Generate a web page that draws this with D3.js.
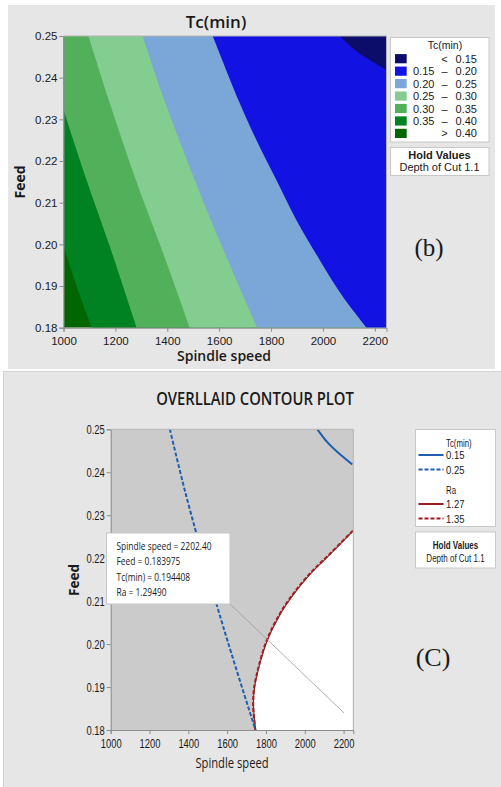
<!DOCTYPE html>
<html>
<head>
<meta charset="utf-8">
<script src="https://cdn.jsdelivr.net/npm/d3@7"></script>
<style>
  body { margin: 0; background: #fff; }
  svg text { font-family: "Open Sans", "Noto Sans", sans-serif; fill: #1a1a1a; }
  svg text.arial, .tick text { font-family: "Liberation Sans", Arial, sans-serif; }
</style>
</head>
<body>
<div id="chart"></div>
<script>
// ---- data ----
var speedTicks = [1000, 1200, 1400, 1600, 1800, 2000, 2200];
var feedTicks = [0.18, 0.19, 0.20, 0.21, 0.22, 0.23, 0.24, 0.25];

// band colours, from the highest Tc (lower left) to the lowest (upper right)
var bandColors = ["#006600", "#008222", "#52b05b", "#82cd8f", "#7ba6d8", "#1212e2", "#0c0c6b"];
var legendRows = [["", "<", "0.15"], ["0.15", "–", "0.20"], ["0.20", "–", "0.25"], ["0.25", "–", "0.30"],
                  ["0.30", "–", "0.35"], ["0.35", "–", "0.40"], ["", ">", "0.40"]];

// Tc(min) contour lines as [spindle speed, feed]
var tc040 = [[1000, 0.1998], [1051, 0.1898], [1109, 0.18]];
var tc035 = [[1000, 0.2325], [1038, 0.2250], [1089, 0.2154], [1179, 0.1994], [1282, 0.18]];
var tc030 = [[1096, 0.25], [1179, 0.2338], [1279, 0.2154], [1384, 0.1979], [1487, 0.18]];
var tc025 = [[1305, 0.25], [1384, 0.2354], [1506, 0.2154], [1603, 0.2006], [1746, 0.18]];
var tc020 = [[1575, 0.25], [1680, 0.2338], [1744, 0.2250], [1821, 0.2154], [1898, 0.2058],
             [1988, 0.1962], [2077, 0.1874], [2168, 0.18]];
var tc015 = [[2065, 0.25], [2116, 0.2470], [2168, 0.2447], [2245, 0.2418]];

// Ra contour lines (overlaid plot)
var ra135 = [[1745, 0.18], [1734, 0.1855], [1738, 0.1895], [1762, 0.1947], [1805, 0.201], [1873, 0.2072],
             [1942, 0.2118], [2028, 0.2165], [2131, 0.2211], [2250, 0.2265]];
var ra127 = [[1747, 0.18], [1736, 0.1855], [1740, 0.1895], [1764, 0.1947], [1807, 0.2009], [1875, 0.2071],
             [1944, 0.2117], [2030, 0.2164], [2133, 0.2210], [2250, 0.2264]];

// crosshair read-out
var tipSpeed = 2202.40, tipFeed = 0.183975, tipTc = 0.194408, tipRa = 1.29490;
var holdDepth = 1.1;

var svg = d3.select("#chart").append("svg")
  .attr("width", 501)
  .attr("height", 787);

// panel backgrounds
svg.append("rect").attr("x", 8).attr("y", 5).attr("width", 487).attr("height", 364).attr("fill", "#e6e6e6");
svg.append("rect").attr("x", 3.5).attr("y", 371.5).attr("width", 500).attr("height", 420)
  .attr("fill", "#e6e6e6").attr("stroke", "#d2d2d2");

// the lower picture is squashed sideways, so its texts are narrowed
function squeeze(sel, k) {
  sel.each(function() {
    var w = this.getComputedTextLength();
    d3.select(this).attr("textLength", w * k).attr("lengthAdjust", "spacingAndGlyphs");
  });
}

// smooth line through boundary points, closed round the upper right corner
function bandPath(pts, x, y) {
  var d = d3.line().x(p => x(p[0])).y(p => y(p[1])).curve(d3.curveCatmullRom)(pts);
  var x0 = x.range()[0], x1 = x.range()[1], yb = y.range()[0], yt = y.range()[1];
  return d + "L" + x1 + "," + yb + "L" + x1 + "," + yt + "L" + x0 + "," + yt + "Z";
}

// axes; xBase = baseline offset of the speed labels below the plot
function drawAxes(g, x, y, fontSize, xBase) {
  var ax = g.append("g")
    .attr("transform", `translate(0, ${y.range()[0]})`)
    .call(d3.axisBottom(x).tickValues(speedTicks).tickSize(4).tickFormat(d3.format("d")));
  var ay = g.append("g")
    .attr("transform", `translate(${x.range()[0]}, 0)`)
    .call(d3.axisLeft(y).tickValues(feedTicks).tickSize(4).tickPadding(2).tickFormat(d3.format(".2f")));
  [ax, ay].forEach(function(a) {
    a.select(".domain").attr("stroke", "#8c8c8c");
    a.selectAll(".tick line").attr("stroke", "#8c8c8c");
    a.selectAll(".tick text").attr("font-size", fontSize).attr("fill", "#1a1a1a");
  });
  ax.selectAll(".tick text").attr("y", xBase).attr("dy", 0);
  // light frame on top and right
  g.append("path")
    .attr("d", `M${x.range()[0]},${y.range()[1]}H${x.range()[1]}V${y.range()[0]}`)
    .attr("fill", "none").attr("stroke", "#b4b4b4");
  return g.selectAll(".tick text");
}

// ================= (b) Tc(min) contour plot =================
var xTop = d3.scaleLinear().domain([1000, 2245]).range([63.5, 386.5]);
var yTop = d3.scaleLinear().domain([0.18, 0.25]).range([327.7, 36]);

svg.append("clipPath").attr("id", "clipTop").append("rect")
  .attr("x", 63.5).attr("y", 36).attr("width", 323).attr("height", 291.7);

var topG = svg.append("g");
var bands = topG.append("g").attr("clip-path", "url(#clipTop)");
bands.append("rect").attr("x", 63.5).attr("y", 36).attr("width", 323).attr("height", 291.7)
  .attr("fill", bandColors[0]);
[tc040, tc035, tc030, tc025, tc020, tc015].forEach(function(line, i) {
  bands.append("path").attr("d", bandPath(line, xTop, yTop)).attr("fill", bandColors[i + 1]);
});
drawAxes(topG, xTop, yTop, "11.5px", 16.9);

topG.append("text").attr("x", 216).attr("y", 28).attr("text-anchor", "middle")
  .attr("font-size", "17px").attr("font-weight", 600).text("Tc(min)");
topG.append("text").attr("x", 224).attr("y", 361).attr("text-anchor", "middle")
  .attr("font-size", "14px").attr("font-weight", 600).text("Spindle speed");
topG.append("text").attr("transform", "translate(25, 182) rotate(-90)").attr("text-anchor", "middle")
  .attr("font-size", "14px").attr("font-weight", 700).text("Feed");

// legend
var leg = topG.append("g");
leg.append("rect").attr("x", 390.5).attr("y", 37.5).attr("width", 98.5).attr("height", 104.5)
  .attr("fill", "#fff").attr("stroke", "#c8c8c8");
leg.append("text").attr("class", "arial").attr("x", 445).attr("y", 49).attr("text-anchor", "middle")
  .attr("font-size", "10.5px").text("Tc(min)");
var legColors = bandColors.slice().reverse();
legendRows.forEach(function(r, i) {
  var cy = 58.7 + i * 12.45;
  leg.append("rect").attr("x", 395).attr("y", cy - 4.6).attr("width", 11.7).attr("height", 9.2)
    .attr("fill", legColors[i]);
  var row = leg.append("text").attr("class", "arial").attr("y", cy + 4).attr("font-size", "11px");
  if (r[0]) row.append("tspan").attr("x", 413).text(r[0]);
  row.append("tspan").attr("x", 444.5).attr("text-anchor", "middle").text(r[1]);
  row.append("tspan").attr("x", 477).attr("text-anchor", "end").text(r[2]);
});
leg.append("rect").attr("x", 390.5).attr("y", 147.5).attr("width", 98.5).attr("height", 28)
  .attr("fill", "#fff").attr("stroke", "#c8c8c8");
leg.append("text").attr("class", "arial").attr("x", 439.5).attr("y", 158.5).attr("text-anchor", "middle")
  .attr("font-size", "11px").attr("font-weight", 700).text("Hold Values");
leg.append("text").attr("class", "arial").attr("x", 439.5).attr("y", 171).attr("text-anchor", "middle")
  .attr("font-size", "11px").text("Depth of Cut  " + holdDepth);

topG.append("text").attr("x", 429).attr("y", 256).attr("text-anchor", "middle")
  .style("font-family", "'Liberation Serif', serif")
  .attr("font-size", "25px").text("(b)");

// ================= (C) overlaid contour plot =================
var xBot = d3.scaleLinear().domain([1000, 2250]).range([110.7, 353.3]);
var yBot = d3.scaleLinear().domain([0.18, 0.25]).range([730, 429.3]);

svg.append("clipPath").attr("id", "clipBot").append("rect")
  .attr("x", 110.7).attr("y", 429.3).attr("width", 242.6).attr("height", 300.7);

var bot = svg.append("g");
var area = bot.append("g").attr("clip-path", "url(#clipBot)");
area.append("rect").attr("x", 110.7).attr("y", 429.3).attr("width", 242.6).attr("height", 300.7)
  .attr("fill", "#cbcbcb");

// feasible (white) region below the Ra contour
var raLine = d3.line().x(p => xBot(p[0])).y(p => yBot(p[1])).curve(d3.curveCatmullRom);
area.append("path")
  .attr("d", raLine(ra135) + "L" + xBot(2250) + "," + yBot(0.18) + "Z")
  .attr("fill", "#fff");

area.append("path").attr("d", raLine(ra127)).attr("fill", "none")
  .attr("stroke", "#9a1c1c").attr("stroke-width", 1.2);
area.append("path").attr("d", raLine(ra135)).attr("fill", "none")
  .attr("stroke", "#a01e1e").attr("stroke-width", 2).attr("stroke-dasharray", "4,2");
area.append("path").attr("d", raLine(tc025)).attr("fill", "none")
  .attr("stroke", "#1e5fb0").attr("stroke-width", 2).attr("stroke-dasharray", "4,2");
area.append("path").attr("d", raLine(tc015)).attr("fill", "none")
  .attr("stroke", "#1e5fb0").attr("stroke-width", 2);

var botTicks = drawAxes(bot, xBot, yBot, "12.5px", 18.3);
squeeze(botTicks, 0.75);

// crosshair read-out box with its leader line
bot.append("line")
  .attr("x1", 230).attr("y1", 604)
  .attr("x2", xBot(tipSpeed)).attr("y2", yBot(tipFeed))
  .attr("stroke", "#9a9a9a").attr("stroke-width", 0.8);
bot.append("rect").attr("x", 106.5).attr("y", 533).attr("width", 123.5).attr("height", 71)
  .attr("fill", "#fff").attr("stroke", "#c8c8c8");
var tipLines = ["Spindle speed = " + tipSpeed.toFixed(2), "Feed = " + tipFeed,
                "Tc(min) = " + tipTc, "Ra = " + tipRa.toFixed(5)];
var tipText = bot.selectAll(".tip").data(tipLines).enter().append("text")
  .attr("class", "tip")
  .attr("x", 116.5).attr("y", (d, i) => 550 + i * 15.4)
  .attr("font-size", "10.5px").text(d => d);
squeeze(tipText, 0.8);

var t1 = bot.append("text").attr("x", 255).attr("y", 405).attr("text-anchor", "middle")
  .attr("font-size", "18.5px").attr("font-weight", 600).text("OVERLLAID CONTOUR PLOT");
squeeze(t1, 0.8);
var t2 = bot.append("text").attr("x", 232).attr("y", 768).attr("text-anchor", "middle")
  .attr("font-size", "14px").text("Spindle speed");
squeeze(t2, 0.8);
bot.append("text").attr("transform", "translate(79, 580) rotate(-90)").attr("text-anchor", "middle")
  .attr("font-size", "13.5px").attr("font-weight", 700).text("Feed");

// legend
var leg2 = bot.append("g");
leg2.append("rect").attr("x", 415.5).attr("y", 429.5).attr("width", 80).attr("height", 97)
  .attr("fill", "#fff").attr("stroke", "#c8c8c8");
var legItems = [
  {title: "Tc(min)", y: 443},
  {label: "0.15", y: 455, color: "#1e5fb0", dash: null},
  {label: "0.25", y: 469.5, color: "#1e5fb0", dash: "4,2"},
  {title: "Ra", y: 490},
  {label: "1.27", y: 504, color: "#9a1c1c", dash: null},
  {label: "1.35", y: 518.5, color: "#9a1c1c", dash: "4,2"}
];
legItems.forEach(function(it) {
  if (it.title) {
    squeeze(leg2.append("text").attr("class", "arial").attr("x", 446).attr("y", it.y + 3.5)
      .attr("font-size", "10px").text(it.title), 0.78);
  } else {
    leg2.append("line").attr("x1", 418.5).attr("x2", 443.5).attr("y1", it.y).attr("y2", it.y)
      .attr("stroke", it.color).attr("stroke-width", 2).attr("stroke-dasharray", it.dash);
    squeeze(leg2.append("text").attr("class", "arial").attr("x", 446).attr("y", it.y + 4)
      .attr("font-size", "10.5px").text(it.label), 0.9);
  }
});
leg2.append("rect").attr("x", 415.5).attr("y", 532).attr("width", 80).attr("height", 36)
  .attr("fill", "#fff").attr("stroke", "#c8c8c8");
squeeze(leg2.append("text").attr("class", "arial").attr("x", 455.5).attr("y", 548.5).attr("text-anchor", "middle")
  .attr("font-size", "10px").attr("font-weight", 700).text("Hold Values"), 0.8);
squeeze(leg2.append("text").attr("class", "arial").attr("x", 455.5).attr("y", 562).attr("text-anchor", "middle")
  .attr("font-size", "10px").text("Depth of Cut  " + holdDepth), 0.8);

bot.append("text").attr("x", 433).attr("y", 666).attr("text-anchor", "middle")
  .style("font-family", "'Liberation Serif', serif").attr("font-size", "26px").text("(C)");
</script>
</body>
</html>
